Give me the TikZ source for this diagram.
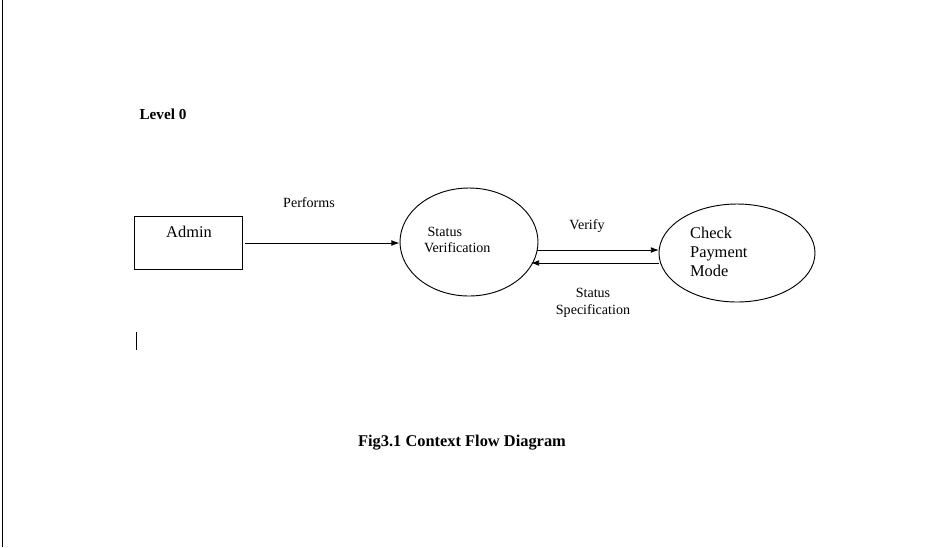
\documentclass[tikz,border=0pt]{standalone}
\usepackage{fontspec}
\setmainfont{Liberation Serif}
\usetikzlibrary{arrows.meta}
\usetikzlibrary{positioning}
\usetikzlibrary{shapes.geometric}

\begin{document}
\begin{tikzpicture}[x=0.03cm,y=-0.03cm, every node/.style={align=left},
    flow/.style={-{Latex[length=7pt,width=5pt]}, thick},
    proc/.style={draw, thick, ellipse}]
    \useasboundingbox (0,0) rectangle (945,547);
    % page edge and cursor
    \draw[thick] (2,0) -- (2,547);
    \draw[thick] (136,332) -- (136,350);

    \node[font=\bfseries\fontsize{13}{15}\selectfont] (level) at (163,114) {Level 0};

    % external entity
    \node[draw, thick, minimum width=108*0.03cm, minimum height=53*0.03cm] (admin) at (188,242.5) {};
    \node[font=\fontsize{14}{16}\selectfont] (admintext) at (189,232) {Admin};

    % processes
    \node[proc, minimum width=138*0.03cm, minimum height=108*0.03cm] (status) at (469,242) {};
    \node[font=\fontsize{12}{14}\selectfont, anchor=west] (statustext) at (420,240) {\ Status\\Verification};
    \node[proc, minimum width=156*0.03cm, minimum height=98*0.03cm] (check) at (737,253) {};
    \node[font=\fontsize{14}{16}\selectfont, anchor=west] (checktext) at (686,252) {Check\\Payment\\Mode};

    % flows
    \coordinate (a1) at (245,243);
    \draw[flow] (a1) -- (status.west |- a1);
    \node[font=\fontsize{12}{14}\selectfont] (performs) at (309,203) {Performs};

    \coordinate (v1) at (537,250);
    \coordinate (v2) at (659,250);
    \draw[flow] (v1) -- (v2);
    \node[font=\fontsize{12}{14}\selectfont] (verify) at (587,226) {Verify};

    \coordinate (s1) at (659,263);
    \coordinate (s2) at (531,263);
    \draw[flow] (s1) -- (s2);
    \node[font=\fontsize{12}{14}\selectfont, align=center] (spec) at (593,303) {Status\\Specification};

    \node[font=\bfseries\fontsize{14}{16}\selectfont] (caption) at (462,443) {Fig3.1 Context Flow Diagram};
\end{tikzpicture}
\end{document}
